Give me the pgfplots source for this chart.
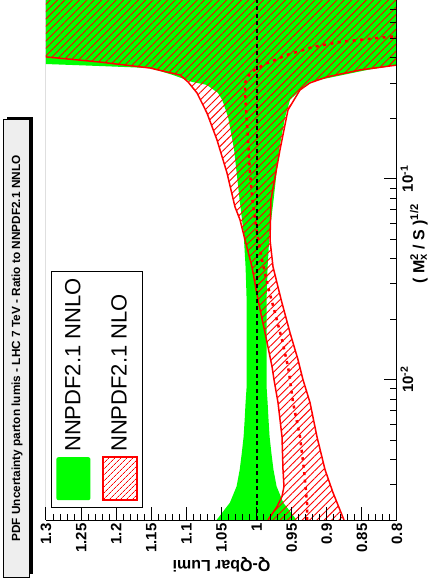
\documentclass[border=0pt]{standalone}
\usepackage{fontspec}
\setmainfont{Liberation Sans}
\usepackage{graphicx}
\usepackage{pgfplots}
\pgfplotsset{compat=1.18}
\usetikzlibrary{patterns.meta}

\definecolor{rgreen}{RGB}{0,255,0}
\definecolor{rred}{RGB}{255,0,0}
\definecolor{titlefill}{RGB}{238,238,238}

\begin{document}
\rotatebox{90}{%
\begin{tikzpicture}
\useasboundingbox (-67pt,-40pt) rectangle (520pt,397pt);
\begin{axis}[
    at={(0pt,0pt)}, anchor=south west,
    scale only axis, width=520pt, height=351pt,
    xmode=log, xmin=0.002, xmax=0.778,
    ymin=0.8, ymax=1.3,
    axis x line*=bottom, axis y line*=left,
    axis line style={-, line width=1pt},
    axis on top,
    tick align=inside,
    major tick length=13pt, minor tick length=6.5pt,
    tick style={black, line width=1pt},
    ytick={0.8,0.85,0.9,0.95,1,1.05,1.1,1.15,1.2,1.25,1.3},
    yticklabels={0.8,0.85,0.9,0.95,1,1.05,1.1,1.15,1.2,1.25,1.3},
    minor y tick num=4,
    xtick={0.01,0.1},
    xticklabels={10\textsuperscript{-2},10\textsuperscript{-1}},
    minor xtick={0.002,0.003,0.004,0.005,0.006,0.007,0.008,0.009,
                 0.02,0.03,0.04,0.05,0.06,0.07,0.08,0.09,0.2,0.3,0.4,0.5,0.6,0.7},
    tick label style={font=\fontsize{15}{15}\selectfont\bfseries},
    label style={font=\fontsize{16}{16}\selectfont\bfseries},
    xlabel={( M\rlap{\textsuperscript{2}}\textsubscript{x} / S )\textsuperscript{1/2}},
    xlabel style={at={(axis description cs:0.531,-0.062)}, anchor=center},
    ylabel={Q-Qbar Lumi},
    ylabel style={at={(axis description cs:-0.0865,0.5)}, anchor=center},
    legend cell align=left,
    legend style={at={(0.023,0.986)}, anchor=north west, draw=black,
        line width=1pt, fill=white, inner xsep=7pt, inner ysep=5pt,
        row sep=12pt, column sep=5pt, nodes={inner sep=0pt},
        font=\fontsize{22}{22}\selectfont},
]
% NNPDF2.1 NNLO uncertainty band
\addplot[fill=rgreen, draw=none,
    legend image code/.code={\fill[rgreen, rounded corners=2pt] (0pt,-17pt) rectangle (43pt,17pt);}]
coordinates {
    (0.002,1.057) (0.00244,1.038) (0.00294,1.0285) (0.00357,1.024) (0.00434,1.021)
    (0.0052,1.0185) (0.00632,1.017) (0.00769,1.0157) (0.00923,1.0142) (0.0141,1.0142)
    (0.025,1.0142) (0.0365,1.0157) (0.0539,1.0185) (0.0787,1.0242) (0.1394,1.032)
    (0.2034,1.0406) (0.2472,1.049) (0.268,1.055) (0.2938,1.071) (0.3041,1.092)
    (0.3291,1.119) (0.3566,1.152) (0.3648,1.223) (0.3732,1.299) (0.3819,1.5) (0.778,1.5)
    (0.778,0.5) (0.3819,0.5) (0.369,0.8) (0.3486,0.843) (0.3217,0.891) (0.3041,0.924)
    (0.2773,0.938) (0.2472,0.9524) (0.2034,0.9594) (0.1394,0.968) (0.0787,0.9758)
    (0.0539,0.9815) (0.0365,0.9843) (0.025,0.9858) (0.0141,0.9858) (0.00923,0.9858)
    (0.00769,0.9843) (0.00632,0.983) (0.0052,0.9815) (0.00434,0.979) (0.00357,0.976)
    (0.00294,0.9715) (0.00244,0.962) (0.002,0.943)
} -- cycle;
\addlegendentry{NNPDF2.1 NNLO}
% NNPDF2.1 NLO uncertainty band (hatched)
\addplot[draw=none, pattern={Lines[angle=45,distance=5.2pt,line width=0.9pt]}, pattern color=rred,
    legend image code/.code={\draw[rred, line width=1.5pt, pattern={Lines[angle=45,distance=4pt,line width=0.7pt]}, pattern color=rred] (0pt,-17pt) rectangle (43pt,17pt);}]
coordinates {
    (0.002,0.9838) (0.00233,0.9709) (0.00262,0.9638) (0.00294,0.961) (0.00357,0.9624)
    (0.0052,0.9638) (0.00769,0.9695) (0.01,0.9752) (0.01161,0.978) (0.01714,0.988)
    (0.025,0.998) (0.0365,1.0066) (0.0497,1.0165) (0.0625,1.0236) (0.0726,1.0308)
    (0.1072,1.0422) (0.1563,1.0564) (0.2128,1.0707) (0.268,1.0849) (0.3041,1.0977)
    (0.3291,1.1091) (0.3566,1.1519) (0.3819,1.2231) (0.4046,1.2986) (0.414,1.5) (0.778,1.5)
    (0.778,0.5) (0.392,0.5) (0.369,0.8) (0.3486,0.8527) (0.3217,0.900) (0.3006,0.924)
    (0.2773,0.9382) (0.2204,0.9553) (0.1394,0.9667) (0.0787,0.9795) (0.0497,0.9809)
    (0.0365,0.9766) (0.025,0.965) (0.01714,0.9524) (0.01257,0.941) (0.01,0.9339)
    (0.00769,0.9239) (0.0052,0.914) (0.00357,0.9026) (0.00274,0.8912) (0.002,0.8755)
} -- cycle;
\addlegendentry{NNPDF2.1 NLO}
% NLO band edges
\addplot[rred, line width=1.5pt, forget plot] coordinates {
    (0.002,0.9838) (0.00233,0.9709) (0.00262,0.9638) (0.00294,0.961) (0.00357,0.9624)
    (0.0052,0.9638) (0.00769,0.9695) (0.01,0.9752) (0.01161,0.978) (0.01714,0.988)
    (0.025,0.998) (0.0365,1.0066) (0.0497,1.0165) (0.0625,1.0236) (0.0726,1.0308)
    (0.1072,1.0422) (0.1563,1.0564) (0.2128,1.0707) (0.268,1.0849) (0.3041,1.0977)
    (0.3291,1.1091) (0.3566,1.1519) (0.3819,1.2231) (0.4046,1.2986) (0.414,1.5)
};
\addplot[rred, line width=1.5pt, forget plot] coordinates {
    (0.002,0.8755) (0.00274,0.8912) (0.00357,0.9026) (0.0052,0.914) (0.00769,0.9239)
    (0.01,0.9339) (0.01257,0.941) (0.01714,0.9524) (0.025,0.965) (0.0365,0.9766)
    (0.0497,0.9809) (0.0787,0.9795) (0.1394,0.9667) (0.2204,0.9553) (0.2773,0.9382)
    (0.3006,0.924) (0.3217,0.900) (0.3486,0.8527) (0.369,0.8) (0.392,0.5)
};
% NLO central value
\addplot[rred, line width=2.5pt, dash pattern=on 3pt off 4.5pt, forget plot] coordinates {
    (0.002,0.928) (0.00244,0.9282) (0.00357,0.9325) (0.0052,0.9382) (0.00769,0.9481)
    (0.01,0.9524) (0.01161,0.9553) (0.01581,0.9638) (0.02154,0.9738) (0.02904,0.9838)
    (0.03954,0.9923) (0.05387,0.9994) (0.07869,1.006) (0.1072,1.0094) (0.1901,1.0137)
    (0.268,1.0165) (0.3006,1.0165) (0.3367,1.0094) (0.3566,0.998) (0.3775,0.985)
    (0.414,0.9567) (0.4541,0.9197) (0.4809,0.8812) (0.5028,0.8285) (0.5143,0.8) (0.6,0.7)
};
% reference line
\addplot[black, line width=2pt, dash pattern=on 4pt off 3.5pt, forget plot]
    coordinates {(0.002,1) (0.778,1)};
\draw[line width=1pt] (rel axis cs:0,1) -- (rel axis cs:1,1);
\end{axis}
% title box
\fill[black] (-54pt,364pt) rectangle (403pt,390pt);
\filldraw[fill=titlefill, draw=black, line width=1pt] (-57pt,367pt) rectangle (400pt,393pt);
\node[font=\fontsize{11.8}{11.8}\selectfont\bfseries] at (171.5pt,380pt)
    {PDF Uncertainty parton lumis - LHC 7 TeV - Ratio to NNPDF2.1 NNLO};
\end{tikzpicture}%
}
\end{document}
